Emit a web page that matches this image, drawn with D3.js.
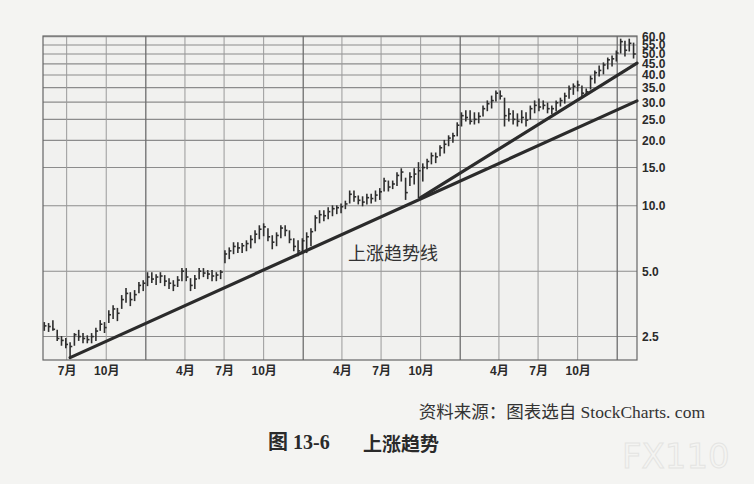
<!DOCTYPE html>
<html>
<head>
<meta charset="utf-8">
<script src="https://cdn.jsdelivr.net/npm/d3@7/dist/d3.min.js"></script>
<style>
  html, body { margin: 0; padding: 0; background: #f4f4f2; }
  svg { display: block; }
</style>
</head>
<body>
<svg id="chart" width="754" height="484"></svg>
<script>
// ---- data ----
const firstBarDate = "2003-05-10";
const barStepDays = 10;
const highs = [2.90,2.87,2.96,2.67,2.50,2.45,2.34,2.58,2.67,2.58,2.52,2.58,2.73,2.96,2.90,3.29,3.47,3.37,3.86,4.16,
  3.98,4.07,4.43,4.52,4.92,4.92,4.82,4.92,4.77,4.62,4.52,4.72,5.14,5.14,4.62,4.77,5.14,5.14,5.03,5.03,
  4.92,5.03,6.21,6.40,6.76,6.76,6.70,6.90,7.28,7.67,8.09,8.26,7.84,7.28,7.51,8.09,8.09,7.67,7.05,6.90,
  7.05,7.51,7.84,9.00,9.49,9.49,9.79,10.0,10.0,10.2,10.5,11.7,11.7,11.1,11.0,11.3,11.3,11.7,12.0,13.4,
  13.0,13.0,14.2,14.8,13.4,14.2,14.8,15.8,15.6,16.4,17.5,17.5,18.9,20.0,21.0,21.6,24.1,26.8,27.4,27.4,
  26.8,26.8,28.8,30.4,32.0,33.8,33.8,31.3,28.0,27.4,26.5,27.4,26.8,28.8,30.4,31.0,30.4,29.7,28.8,30.4,
  31.3,33.0,35.6,36.4,37.5,35.6,34.5,39.6,41.8,44.0,45.5,47.9,48.9,51.6,58.5,57.3,58.5,56.1];
const lows = [2.67,2.64,2.67,2.40,2.28,2.22,2.00,2.28,2.40,2.34,2.34,2.34,2.40,2.67,2.61,2.90,3.03,2.96,3.37,3.60,
  3.47,3.66,3.98,4.07,4.29,4.43,4.34,4.43,4.29,4.16,4.07,4.25,4.52,4.52,4.07,4.16,4.62,4.72,4.62,4.52,
  4.52,4.62,5.47,5.71,6.02,6.09,6.09,6.21,6.40,6.76,7.05,7.28,6.90,6.34,6.55,7.13,7.28,6.76,6.21,5.89,
  6.02,6.09,6.55,7.67,8.35,8.53,8.71,9.00,9.20,9.30,9.70,10.3,10.5,10.2,10.0,10.2,10.3,10.5,10.7,11.7,
  11.7,12.0,12.4,13.0,10.7,12.4,12.6,10.9,13.0,14.8,15.6,15.8,17.0,17.5,18.9,19.6,21.0,23.3,24.6,23.8,
  23.8,24.1,25.9,27.4,28.2,30.4,31.0,23.3,24.6,23.8,23.3,24.1,23.3,25.1,26.8,27.4,27.9,26.8,26.5,27.4,
  28.8,29.7,31.3,32.6,33.8,32.0,32.5,34.5,36.8,39.6,40.5,42.7,44.0,46.4,50.5,48.9,51.6,47.9];
const closes = [2.80,2.78,2.70,2.45,2.40,2.30,2.25,2.55,2.50,2.45,2.42,2.50,2.65,2.85,2.75,3.15,3.35,3.20,3.70,3.95,
  3.70,3.90,4.30,4.40,4.70,4.60,4.70,4.75,4.50,4.40,4.30,4.55,5.00,4.70,4.30,4.60,5.00,4.90,4.85,4.75,
  4.80,4.95,6.00,6.20,6.50,6.40,6.55,6.70,7.00,7.40,7.80,8.00,7.20,6.80,7.30,7.90,7.70,7.00,6.50,6.20,
  6.90,7.20,7.60,8.80,9.10,9.00,9.40,9.70,9.80,9.90,10.2,11.3,11.0,10.6,10.4,10.9,10.8,11.2,11.6,13.0,
  12.2,12.6,13.8,14.3,11.5,13.6,14.0,14.5,15.0,16.0,17.0,16.8,18.5,19.2,20.5,21.0,23.5,26.0,25.5,24.5,
  25.0,25.8,28.0,29.5,30.5,33.0,32.0,26.0,26.5,25.0,24.5,25.5,24.8,28.0,29.0,28.5,29.0,28.0,28.0,29.8,
  30.5,32.0,34.5,35.5,36.0,33.0,33.5,38.5,41.0,42.0,44.5,47.0,47.5,50.5,57.0,52.0,56.0,50.0];

const trendDates1 = ["2003-07-09", "2007-02-16"];
const trendValues1 = [2.0, 30.4];
const trendDates2 = ["2005-10-01", "2007-02-16"];
const trendValues2 = [10.9, 45.4];

const xDomainDates = ["2003-05-07", "2007-02-16"];
const gridDates = ["2003-07-01","2003-10-01","2004-01-01","2004-04-01","2004-07-01","2004-10-01",
  "2005-01-01","2005-04-01","2005-07-01","2005-10-01","2006-01-01","2006-04-01","2006-07-01",
  "2006-10-01","2007-01-01"];
const yDomain = [1.95, 60.5];
const yTicks = [2.5, 5, 10, 15, 20, 25, 30, 35, 40, 45, 50, 55, 60];

const trendLabel = "上涨趋势线";
const sourceText = "资料来源：图表选自 StockCharts. com";
const figNumber = "图 13-6";
const figTitle = "上涨趋势";

// ---- drawing ----
const parse = d3.timeParse("%Y-%m-%d");
const svg = d3.select("#chart");
const plot = { left: 43, right: 637, top: 36, bottom: 360 };

const x = d3.scaleTime()
  .domain(xDomainDates.map(parse))
  .range([plot.left, plot.right]);
const y = d3.scaleLog()
  .domain(yDomain)
  .range([plot.bottom, plot.top]);

svg.append("rect").attr("width", 754).attr("height", 484).attr("fill", "#f4f4f2");
svg.append("rect")
  .attr("x", plot.left).attr("y", plot.top)
  .attr("width", plot.right - plot.left).attr("height", plot.bottom - plot.top)
  .attr("fill", "#f1f1ef");

// horizontal grid
svg.append("g").selectAll("line").data(yTicks).join("line")
  .attr("x1", plot.left).attr("x2", plot.right)
  .attr("y1", d => y(d)).attr("y2", d => y(d))
  .attr("stroke", "#8c8c8c").attr("stroke-width", 1.1);

// vertical grid
const gDates = gridDates.map(parse);
svg.append("g").selectAll("line").data(gDates).join("line")
  .attr("x1", d => x(d)).attr("x2", d => x(d))
  .attr("y1", plot.top).attr("y2", plot.bottom)
  .attr("stroke", d => d.getMonth() === 0 ? "#6e6e6e" : "#9a9a9a")
  .attr("stroke-width", d => d.getMonth() === 0 ? 1.3 : 1);

// border
svg.append("rect")
  .attr("x", plot.left).attr("y", plot.top)
  .attr("width", plot.right - plot.left).attr("height", plot.bottom - plot.top)
  .attr("fill", "none").attr("stroke", "#666").attr("stroke-width", 1.2);

// bars (high-low-close)
const start = parse(firstBarDate);
const bars = highs.map((h, i) => ({
  date: d3.timeDay.offset(start, i * barStepDays),
  high: h, low: lows[i], close: closes[i]
}));
const bg = svg.append("g").attr("stroke", "#2e2e2e").attr("stroke-width", 1.6);
bg.selectAll("line.hl").data(bars).join("line").attr("class", "hl")
  .attr("x1", d => x(d.date)).attr("x2", d => x(d.date))
  .attr("y1", d => y(d.high) - 0.5).attr("y2", d => y(d.low) + 0.5);
bg.selectAll("line.cl").data(bars).join("line").attr("class", "cl")
  .attr("x1", d => x(d.date)).attr("x2", d => x(d.date) + 2.2)
  .attr("y1", d => y(d.close)).attr("y2", d => y(d.close));

// trend lines
const lineGen = d3.line().x(d => x(d[0])).y(d => y(d[1]));
[[trendDates1, trendValues1], [trendDates2, trendValues2]].forEach(([ds, vs]) => {
  svg.append("path")
    .attr("d", lineGen(ds.map((d, i) => [parse(d), vs[i]])))
    .attr("fill", "none").attr("stroke", "#2b2b2b")
    .attr("stroke-width", 3.2).attr("stroke-linecap", "round");
});

// axes
const yAxis = d3.axisRight(y).tickValues(yTicks).tickFormat(d3.format(".1f")).tickSize(0).tickPadding(5);
const ya = svg.append("g").attr("transform", `translate(${plot.right},0)`).call(yAxis);
ya.select(".domain").remove();
ya.selectAll("text")
  .attr("font-family", "'Liberation Sans', Arial, sans-serif")
  .attr("font-size", 12).attr("font-weight", "bold").attr("fill", "#2a2a2a");

const labelDates = gDates.filter(d => d.getMonth() !== 0);
const xAxis = d3.axisBottom(x).tickValues(labelDates)
  .tickFormat(d => (d.getMonth() + 1) + "月").tickSize(0).tickPadding(6);
const xa = svg.append("g").attr("transform", `translate(0,${plot.bottom})`).call(xAxis);
xa.select(".domain").remove();
xa.selectAll("text")
  .attr("font-family", "'Liberation Sans', 'Noto Sans CJK SC', sans-serif")
  .attr("font-size", 12).attr("font-weight", "bold").attr("fill", "#2a2a2a");

// annotation
svg.append("text")
  .attr("x", 348).attr("y", 252).attr("dominant-baseline", "central")
  .attr("font-family", "'Noto Sans CJK SC', sans-serif")
  .attr("font-size", 18).attr("fill", "#333")
  .text(trendLabel);

// source & caption
svg.append("text")
  .attr("x", 705).attr("y", 412).attr("dominant-baseline", "central")
  .attr("text-anchor", "end")
  .attr("font-family", "'Liberation Serif', 'Noto Sans CJK SC', serif")
  .attr("font-size", 17.5).attr("fill", "#333")
  .text(sourceText);

svg.append("text")
  .attr("x", 268).attr("y", 442).attr("dominant-baseline", "central")
  .attr("font-family", "'Liberation Serif', 'Noto Sans CJK SC', serif")
  .attr("font-size", 20).attr("font-weight", "bold").attr("fill", "#2a2a2a")
  .text(figNumber);
svg.append("text")
  .attr("x", 363).attr("y", 442).attr("dominant-baseline", "central")
  .attr("font-family", "'Noto Sans CJK SC', sans-serif")
  .attr("font-size", 19).attr("font-weight", "bold").attr("fill", "#2a2a2a")
  .text(figTitle);

// faint watermark
svg.append("text")
  .attr("x", 622).attr("y", 468)
  .attr("font-family", "'DejaVu Sans', sans-serif")
  .attr("font-size", 34).attr("fill", "none")
  .attr("stroke", "#e4e4e2").attr("stroke-width", 1)
  .text("FX110");
</script>
</body>
</html>
